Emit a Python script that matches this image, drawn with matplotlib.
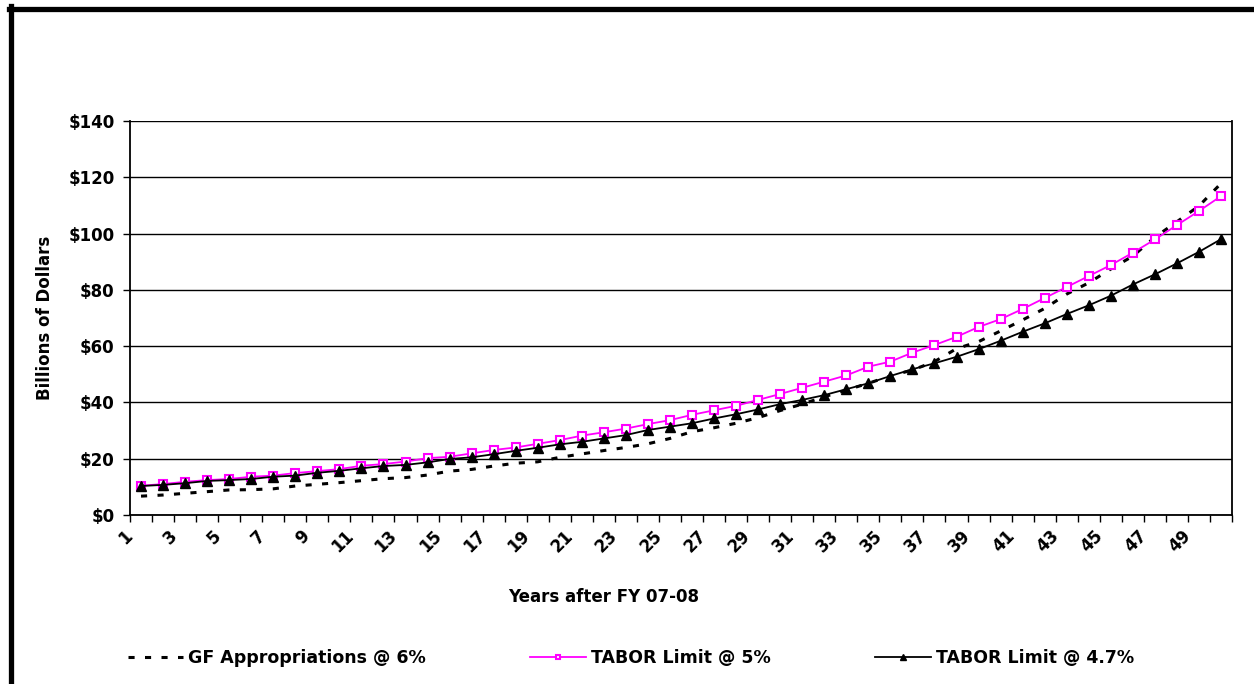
import matplotlib
matplotlib.use('Agg')
import matplotlib.pyplot as plt
from matplotlib.lines import Line2D
from matplotlib.transforms import ScaledTranslation, blended_transform_factory

plt.rcParams['font.family'] = ['DejaVu Sans']
plt.rcParams['font.weight'] = 'bold'

years = list(range(1, 51))

# General Fund appropriations growing at 6% ($ billions)
gf_6 = [6.7, 7.1, 7.7, 8.3, 8.9, 9.0, 9.3, 10.3, 10.9, 11.5,
        12.2, 12.9, 13.3, 14.2, 15.6, 16.2, 17.4, 18.4, 18.9, 20.5,
        21.7, 22.9, 24.0, 25.3, 27.2, 29.6, 31.0, 32.6, 34.6, 37.1,
        39.4, 42.0, 44.4, 46.8, 49.4, 51.5, 54.5, 59.1, 61.6, 65.4,
        69.3, 73.4, 78.5, 82.5, 87.4, 92.0, 98.7, 104.2, 109.8, 117.8]

# TABOR limit at 5%
tabor_5 = [10.4, 11.0, 11.8, 12.4, 12.8, 13.6, 14.0, 14.9, 15.6, 16.3,
           17.5, 18.1, 19.0, 20.2, 20.7, 21.9, 23.1, 24.0, 25.3, 26.6,
           28.2, 29.4, 30.7, 32.3, 33.7, 35.6, 37.2, 38.8, 40.9, 43.0,
           45.2, 47.4, 49.6, 52.7, 54.5, 57.7, 60.4, 63.3, 66.8, 69.6,
           73.2, 77.1, 81.0, 84.9, 88.8, 93.2, 97.9, 103.0, 108.0, 113.3]

# TABOR limit at 4.7%
tabor_47 = [10.3, 10.7, 11.3, 12.1, 12.4, 12.8, 13.6, 14.0, 15.0, 15.7,
            16.6, 17.4, 17.8, 18.7, 19.9, 20.5, 21.6, 22.8, 23.9, 25.1,
            26.0, 27.2, 28.4, 30.2, 31.4, 32.6, 34.3, 35.8, 37.5, 39.4,
            40.9, 42.6, 44.7, 46.8, 49.4, 51.8, 53.9, 56.2, 58.9, 61.9,
            65.1, 68.1, 71.4, 74.5, 77.9, 81.9, 85.5, 89.4, 93.5, 98.0]

y_ticks = [0, 20, 40, 60, 80, 100, 120, 140]
x_labels = years[::2]

fig = plt.figure(figsize=(12.54, 6.84), dpi=100)
ax = fig.add_axes([130 / 1254, 1 - 515 / 684, 1102 / 1254, 394 / 684])

ax.plot(years, gf_6, color='black', lw=2.2, linestyle=(0, (2.0, 3.4)),
        label='GF Appropriations @ 6%')
ax.plot(years, tabor_5, color='#ff00ff', lw=1.3, marker='s', markersize=6,
        markerfacecolor='white', markeredgecolor='#ff00ff', markeredgewidth=1.5,
        label='TABOR Limit @ 5%')
ax.plot(years, tabor_47, color='black', lw=1.3, marker='^', markersize=7.5,
        label='TABOR Limit @ 4.7%')

ax.set_xlim(0.5, 50.5)
ax.set_ylim(0, 140)
ax.set_yticks(y_ticks)
ax.set_yticklabels(['${}'.format(v) for v in y_ticks], fontsize=12, fontweight='bold')
ax.yaxis.grid(True, color='black', lw=1)
ax.set_axisbelow(True)

# category ticks sit on the boundaries between years
ax.set_xticks([y + 0.5 for y in range(0, 51)])
ax.set_xticklabels([])
ax.tick_params(axis='x', length=5, width=1, direction='out')
ax.tick_params(axis='y', length=5, width=1, direction='out', pad=6)

# slanted labels for the odd years
lbl_trans = (blended_transform_factory(ax.transData, ax.transAxes)
             + ScaledTranslation(-11 / 100, -18 / 100, fig.dpi_scale_trans))
for y in x_labels:
    ax.text(y, 0, str(y), transform=lbl_trans, rotation=45, ha='right',
            va='center', rotation_mode='anchor', fontsize=12, fontweight='bold')

ax.spines['top'].set_visible(False)
for side in ['left', 'bottom', 'right']:
    ax.spines[side].set_linewidth(1.3)

ax.set_xlabel('Years after FY 07-08', fontsize=12, fontweight='bold')
ax.set_ylabel('Billions of Dollars', fontsize=12, fontweight='bold')
ax.xaxis.set_label_coords(0.43, -0.185)
ax.yaxis.set_label_coords(-76 / 1102, 0.5)

fig.legend(loc='center', bbox_to_anchor=(0.503, 1 - 658 / 684), ncol=3,
           frameon=False, fontsize=12.5, handlelength=3.2, columnspacing=6.0,
           handletextpad=0.3, markerscale=0.6)

# heavy frame on the top and left edges of the figure
fig.add_artist(Line2D([9 / 1254, 1], [1 - 8.5 / 684, 1 - 8.5 / 684],
                      transform=fig.transFigure, color='black', lw=3.8))
fig.add_artist(Line2D([10.8 / 1254, 10.8 / 1254], [0, 1 - 6 / 684],
                      transform=fig.transFigure, color='black', lw=3.8))

fig.savefig('out.png', dpi=100)
